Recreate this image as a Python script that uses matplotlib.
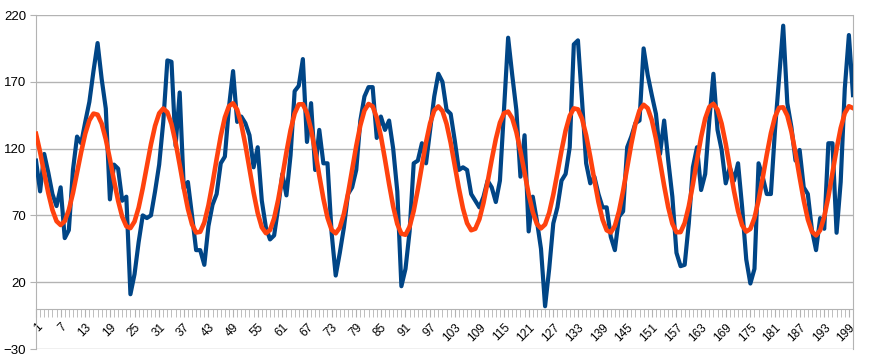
import numpy as np
import matplotlib
matplotlib.use("Agg")
import matplotlib.pyplot as plt

# 数据
x = np.arange(1, 201)

measured = [
    111, 88, 116, 102, 86, 77, 91, 53, 59, 104,
    129, 124, 140, 155, 178, 199, 172, 150, 82, 108,
    105, 81, 84, 11, 26, 50, 70, 68, 70, 88,
    108, 140, 186, 185, 122, 162, 90, 95, 70, 44,
    44, 33, 62, 78, 86, 109, 114, 151, 178, 140,
    144, 139, 130, 106, 121, 81, 61, 52, 55, 76,
    101, 85, 115, 163, 167, 187, 125, 154, 104, 134,
    109, 109, 57, 25, 42, 61, 86, 91, 104, 141,
    159, 166, 166, 128, 144, 134, 141, 120, 88, 17,
    30, 58, 109, 111, 124, 109, 134, 159, 176, 170,
    149, 146, 126, 104, 106, 104, 86, 81, 76, 84,
    96, 91, 80, 96, 150, 203, 175, 149, 99, 130,
    58, 84, 66, 45, 2, 30, 64, 76, 96, 101,
    121, 198, 201, 156, 109, 94, 99, 86, 76, 76,
    54, 44, 69, 73, 121, 129, 139, 141, 195, 175,
    160, 146, 116, 141, 111, 84, 42, 32, 33, 64,
    106, 121, 89, 101, 141, 176, 134, 119, 94, 106,
    96, 109, 76, 37, 19, 30, 109, 99, 86, 86,
    134, 173, 212, 154, 136, 111, 119, 91, 86, 59,
    44, 68, 60, 124, 124, 57, 95, 165, 205, 160,
]

fitted = [
    131.1, 117.4, 101.8, 86.7, 74.1, 65.7, 62.8, 65.7, 74.1, 86.7,
    101.9, 117.4, 131.2, 141.2, 146.2, 145.4, 138.7, 127.0, 112.1, 96.0,
    81.0, 69.0, 61.9, 60.5, 65.4, 75.8, 90.3, 106.8, 123.2, 137.0,
    146.4, 150.0, 147.2, 138.4, 124.6, 107.9, 90.5, 74.9, 63.3, 57.2,
    57.7, 64.7, 77.5, 94.1, 112.2, 129.4, 143.3, 151.8, 153.9, 149.1,
    138.3, 122.8, 104.9, 87.1, 71.8, 61.1, 56.7, 59.0, 67.8, 81.8,
    99.1, 117.3, 133.8, 146.3, 153.1, 153.2, 146.7, 134.3, 118.0, 99.8,
    82.5, 68.3, 59.2, 56.6, 60.8, 71.2, 86.3, 104.0, 121.9, 137.4,
    148.5, 153.4, 151.6, 143.2, 129.4, 112.0, 93.6, 76.7, 63.6, 56.3,
    55.5, 61.5, 73.4, 89.4, 107.3, 124.7, 139.1, 148.5, 151.6, 148.1,
    138.6, 124.4, 107.5, 90.3, 75.2, 64.2, 58.9, 60.0, 67.2, 79.4,
    95.0, 111.7, 127.1, 139.4, 146.5, 147.7, 142.7, 132.4, 118.1, 101.9,
    85.9, 72.6, 63.6, 60.3, 63.2, 72.0, 85.5, 101.7, 118.5, 133.5,
    144.5, 150.1, 149.4, 142.4, 130.0, 113.9, 96.5, 80.0, 66.9, 58.9,
    57.2, 62.1, 73.0, 88.3, 106.0, 123.5, 138.4, 148.6, 152.8, 150.2,
    141.3, 127.3, 110.1, 92.2, 76.0, 63.8, 57.4, 57.5, 64.3, 76.8,
    93.2, 111.3, 128.6, 142.5, 151.2, 153.5, 149.1, 138.7, 123.6, 106.1,
    88.5, 73.3, 62.6, 57.9, 59.9, 68.1, 81.4, 98.0, 115.5, 131.5,
    143.8, 150.6, 150.9, 144.7, 132.7, 116.6, 98.6, 81.3, 67.0, 57.8,
    55.0, 58.9, 69.1, 84.0, 101.7, 119.6, 135.3, 146.5, 151.7, 150.3,
]

y_ticks = [-30, 20, 70, 120, 170, 220]
x_labels = list(range(1, 201, 6))

plt.rcParams['font.family'] = ['Liberation Sans', 'DejaVu Sans']
grey = '#b3b3b3'

fig = plt.figure(figsize=(8.7, 3.63), dpi=100)
ax = fig.add_axes([36 / 870, 14 / 363, 817 / 870, 334 / 363])

ax.plot(x, measured, color='#004586', lw=3.0, zorder=3)
ax.plot(x, fitted, color='#ff420e', lw=3.3, zorder=4)

ax.set_xlim(1, 200)
ax.set_ylim(-30, 220)

# y 轴 + 网格
ax.set_yticks(y_ticks)
ax.yaxis.grid(True, color=grey, lw=1)
ax.tick_params(axis='y', length=4, color=grey, labelsize=9.5, pad=3)

# x 轴在 0 处
ax.spines['bottom'].set_position(('data', 0))
ax.set_xticks(x_labels)
ax.set_xticklabels([str(v) for v in x_labels], rotation=45, ha='right',
                   rotation_mode='anchor', fontsize=8.5)
ax.set_xticks(x, minor=True)
ax.tick_params(axis='x', which='both', length=6, color=grey, pad=3)

for s in ['left', 'right', 'bottom', 'top']:
    ax.spines[s].set_color(grey)
ax.spines['top'].set_visible(False)

ax.set_axisbelow(True)

plt.savefig('out.png', dpi=100)
